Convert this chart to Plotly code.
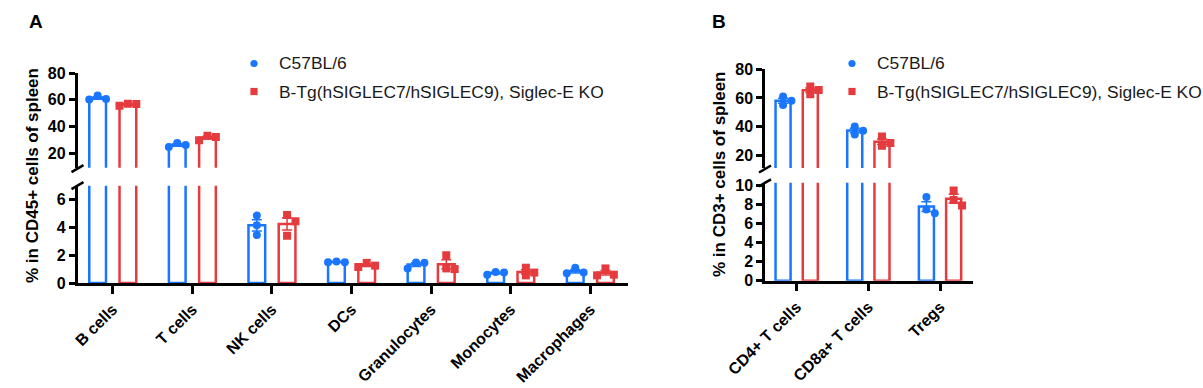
import numpy as np
import plotly.graph_objects as go

# ---------------- data ----------------
cats_a = ["B cells", "T cells", "NK cells", "DCs", "Granulocytes", "Monocytes", "Macrophages"]
wt_a = [[60.5, 63.2, 60.2], [24.5, 27.5, 26.0], [4.85, 4.15, 3.45], [1.5, 1.55, 1.5],
        [1.05, 1.48, 1.45], [0.6, 0.8, 0.75], [0.75, 1.1, 0.7]]
tg_a = [[55.5, 56.8, 57.0], [29.5, 33.0, 32.0], [4.9, 4.45, 3.4], [1.15, 1.45, 1.25],
        [1.0, 2.0, 1.05], [0.55, 1.1, 0.75], [0.55, 1.05, 0.6]]

cats_b = ["CD4+ T cells", "CD8a+ T cells", "Tregs"]
wt_b = [[55.0, 61.0, 58.0], [34.5, 40.0, 37.0], [7.1, 8.8, 7.5]]
tg_b = [[62.5, 68.0, 65.5], [26.5, 33.0, 28.5], [7.9, 9.5, 8.5]]

group_names = ["C57BL/6", "B-Tg(hSIGLEC7/hSIGLEC9), Siglec-E KO"]
yticks_a_upper = [20, 40, 60, 80]
yticks_a_lower = [0, 2, 4, 6]
yticks_b_upper = [20, 40, 60, 80]
yticks_b_lower = [0, 2, 4, 6, 8, 10]

# ---------------- style / layout ----------------
W, H = 1203, 388
FONT = "Arial, Liberation Sans, sans-serif"
BLUE = "#1A76FF"
RED = "#E53B3E"
COLORS = [BLUE, RED]
SYMBOLS = ["circle", "square"]
OFFSET = 0.19
BAR_W = 0.21
LW = 2.5


def px2x(p):
    return p / W


def px2y(p):
    return 1 - p / H


panels = {
    "A": dict(cats=cats_a, data=[wt_a, tg_a], xpx=(77.5, 628), xr=(-0.443, 6.473),
              up=dict(px=(73, 167.7), rng=(9, 80), ticks=yticks_a_upper),
              lo=dict(px=(185.7, 283), rng=(0, 7), ticks=yticks_a_lower),
              xa="x", ya_up="y", ya_lo="y2",
              title="% in CD45+ cells of spleen", title_xy=(33, 176),
              letter="A", letter_xy=(35.5, 21.5), legend_sym_x=254, legend_txt_x=277),
    "B": dict(cats=cats_b, data=[wt_b, tg_b], xpx=(765, 973), xr=(-0.442, 2.46),
              up=dict(px=(69.3, 168), rng=(11, 80), ticks=yticks_b_upper),
              lo=dict(px=(182.8, 280.7), rng=(0, 10.3), ticks=yticks_b_lower),
              xa="x2", ya_up="y3", ya_lo="y4",
              title="% in CD3+ cells of spleen", title_xy=(720, 174),
              letter="B", letter_xy=(719, 21.5), legend_sym_x=852, legend_txt_x=875),
}
LEGEND_ROWS_Y = (63.5, 91.5)


def swarm(vals, ypix, px_per_cat, diam=8.0):
    """Simple beeswarm: highest point centred, others pushed sideways on overlap."""
    order = np.argsort(-np.asarray(vals), kind="stable")
    placed = []
    offs = np.zeros(len(vals))
    for i in order:
        y = ypix(vals[i])
        xsel = 0.0
        for c in [0, 1, -1, 2, -2]:
            x = c * diam * 1.05
            if all(np.hypot(x - a, y - b) >= diam * 0.9 for a, b in placed):
                xsel = x
                break
        placed.append((xsel, y))
        offs[i] = xsel / px_per_cat
    return offs


fig = go.Figure()
layout_axes = {}
shapes = []
annotations = []

title_font = dict(family=FONT, size=17, color="black", weight="bold")
letter_font = dict(family=FONT, size=19, color="black", weight="bold")
legend_font = dict(family=FONT, size=17.4, color="#1a1a1a")

for key, P in panels.items():
    cats = P["cats"]
    n = len(cats)
    xs = np.arange(n)
    x0p, x1p = P["xpx"]
    px_per_cat = (x1p - x0p) / (P["xr"][1] - P["xr"][0])
    up, lo = P["up"], P["lo"]
    ppu_up = (up["px"][1] - up["px"][0]) / (up["rng"][1] - up["rng"][0])
    ppu_lo = (lo["px"][1] - lo["px"][0]) / (lo["rng"][1] - lo["rng"][0])

    def ypix(v, lo=lo, ppu_up=ppu_up, ppu_lo=ppu_lo):
        if v > lo["rng"][1]:
            return 10000 + v * ppu_up
        return v * ppu_lo

    for seg_name, ya, seg in (("up", P["ya_up"], up), ("lo", P["ya_lo"], lo)):
        rmin, rmax = seg["rng"]
        for g, grp in enumerate(P["data"]):
            arr = [np.array(v, dtype=float) for v in grp]
            means = np.array([a.mean() for a in arr])
            sign = -1 if g == 0 else 1
            fig.add_trace(go.Bar(
                x=xs + sign * OFFSET, y=means, width=BAR_W, xaxis=P["xa"], yaxis=ya,
                marker=dict(color="white", line=dict(color=COLORS[g], width=LW)),
                showlegend=False, hoverinfo="skip"))
        for g, grp in enumerate(P["data"]):
            sign = -1 if g == 0 else 1
            px_, py_ = [], []
            for i, v in enumerate(grp):
                offs = swarm(np.array(v, dtype=float), ypix, px_per_cat)
                for val, o in zip(v, offs):
                    if rmin <= val <= rmax:
                        px_.append(xs[i] + sign * OFFSET + o)
                        py_.append(val)
            if not px_:
                px_, py_ = [None], [None]
            fig.add_trace(go.Scatter(
                x=px_, y=py_, mode="markers", xaxis=P["xa"], yaxis=ya,
                marker=dict(color=COLORS[g], symbol=SYMBOLS[g], size=8, line=dict(width=0)),
                name=group_names[g], showlegend=False, hoverinfo="skip"))
        for g, grp in enumerate(P["data"]):
            arr = [np.array(v, dtype=float) for v in grp]
            means = np.array([a.mean() for a in arr])
            sems = np.array([a.std(ddof=1) / np.sqrt(len(a)) for a in arr])
            sign = -1 if g == 0 else 1
            keep = (means >= rmin) & (means <= rmax)
            if not keep.any():
                continue
            fig.add_trace(go.Scatter(
                x=(xs + sign * OFFSET)[keep], y=means[keep], mode="markers",
                xaxis=P["xa"], yaxis=ya, marker=dict(size=1, opacity=0),
                error_y=dict(type="data", array=sems[keep], visible=True, color=COLORS[g],
                             thickness=1.5, width=5),
                showlegend=False, hoverinfo="skip"))

    xdom = [px2x(x0p), px2x(x1p)]
    tickfont = dict(family=FONT, size=16, color="black", weight="bold")
    common_y = dict(showline=True, linewidth=LW, linecolor="black", ticks="outside",
                    ticklen=6, tickwidth=LW, tickcolor="black", showgrid=False,
                    zeroline=False, tickfont=tickfont, automargin=False, anchor=P["xa"],
                    fixedrange=True)
    layout_axes[("yaxis" if P["ya_up"] == "y" else "yaxis" + P["ya_up"][1:])] = dict(
        common_y, domain=[px2y(up["px"][1]), px2y(up["px"][0])], range=list(up["rng"]),
        tickvals=up["ticks"])
    layout_axes["yaxis" + P["ya_lo"][1:]] = dict(
        common_y, domain=[px2y(lo["px"][1]), px2y(lo["px"][0])], range=list(lo["rng"]),
        tickvals=lo["ticks"])
    layout_axes[("xaxis" if P["xa"] == "x" else "xaxis" + P["xa"][1:])] = dict(
        domain=xdom, range=list(P["xr"]), anchor=P["ya_lo"], showline=True, linewidth=LW,
        linecolor="black", ticks="outside", ticklen=8, tickwidth=LW, tickcolor="black",
        tickvals=list(xs), ticktext=cats, tickangle=-45, showgrid=False, zeroline=False,
        tickfont=tickfont, automargin=False, fixedrange=True)

    # axis break marks
    for ypos in (up["px"][1] + 1, lo["px"][0]):
        shapes.append(dict(type="line", xref="paper", yref="paper",
                           x0=px2x(x0p - 6), y0=px2y(ypos + 3.5),
                           x1=px2x(x0p + 6), y1=px2y(ypos - 3.5),
                           line=dict(color="black", width=LW)))

    # titles and panel letters
    tx, ty = P["title_xy"]
    annotations.append(dict(text=P["title"], x=px2x(tx), y=px2y(ty), xref="paper",
                            yref="paper", showarrow=False, textangle=-90,
                            xanchor="center", yanchor="middle", font=title_font))
    lx, ly = P["letter_xy"]
    annotations.append(dict(text=P["letter"], x=px2x(lx), y=px2y(ly), xref="paper",
                            yref="paper", xanchor="center", yanchor="middle",
                            showarrow=False, font=letter_font))

    # legend (drawn manually so it cannot push the margins)
    sx = P["legend_sym_x"]
    r = 3.6
    for g, rowy in enumerate(LEGEND_ROWS_Y):
        shapes.append(dict(type="circle" if g == 0 else "rect", xref="paper", yref="paper",
                           x0=px2x(sx - r), x1=px2x(sx + r),
                           y0=px2y(rowy + r), y1=px2y(rowy - r),
                           fillcolor=COLORS[g], line=dict(width=0)))
        annotations.append(dict(text=group_names[g], x=px2x(P["legend_txt_x"]),
                                y=px2y(rowy), xref="paper", yref="paper",
                                xanchor="left", yanchor="middle", showarrow=False,
                                font=legend_font))

fig.update_layout(
    width=W, height=H, margin=dict(l=0, r=0, t=0, b=0), template="none",
    paper_bgcolor="white", plot_bgcolor="white", barmode="overlay",
    font=dict(family=FONT, color="black"), showlegend=False,
    shapes=shapes, annotations=annotations,
    **layout_axes,
)

fig.write_html("out.html", config={"displayModeBar": False},
               post_script="document.body.style.margin='0';document.body.style.padding='0';")
